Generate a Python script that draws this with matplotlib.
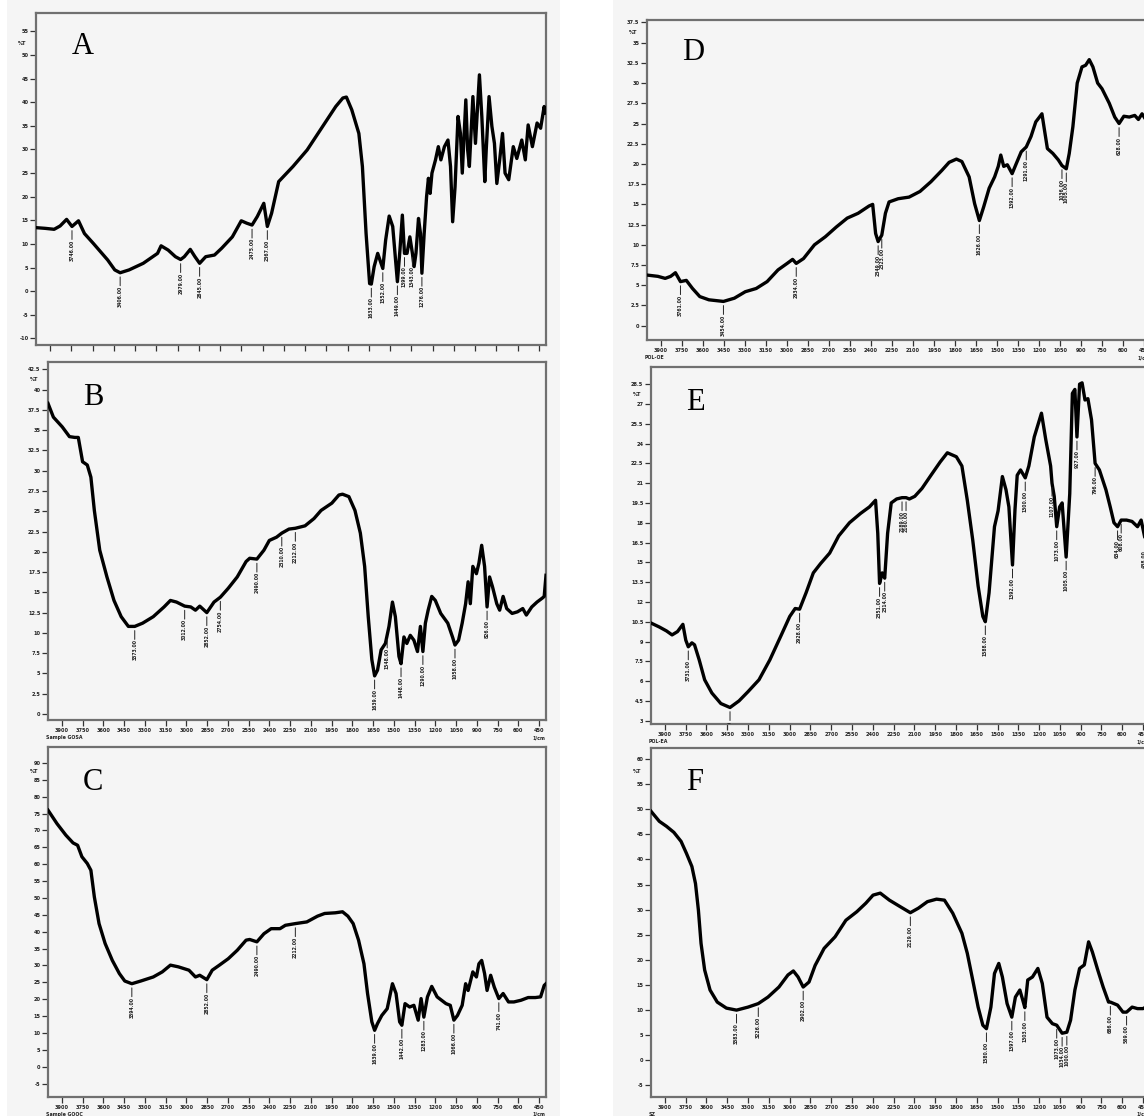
import numpy as np
import matplotlib
matplotlib.use("Agg")
import matplotlib.pyplot as plt
from matplotlib.patches import Rectangle

W, H, DPI = 1144, 1116, 100

# ---------------- spectra: wavenumber (1/cm) and transmittance (%T) ----------------
a_wn = [4000, 3935, 3872, 3830, 3784, 3746, 3700, 3658, 3595, 3494, 3444, 3406, 3343, 3243,
        3142, 3117, 3067, 3016, 2979, 2953, 2911, 2878, 2845, 2802, 2740, 2689, 2614, 2551,
        2513, 2475, 2438, 2392, 2367, 2337, 2287, 2186, 2086, 1985, 1884, 1834, 1809, 1771,
        1721, 1696, 1670, 1645, 1633, 1613, 1588, 1552, 1532, 1507, 1482, 1449, 1431, 1414,
        1399, 1381, 1361, 1343, 1331, 1318, 1300, 1286, 1276, 1260, 1243, 1230, 1218, 1205,
        1180, 1160, 1142, 1117, 1092, 1074, 1059, 1042, 1021, 1004, 991, 966, 953, 941, 916,
        898, 870, 853, 832, 822, 802, 782, 764, 747, 727, 707, 689, 663, 631, 606, 571, 546,
        526, 496, 463, 438, 413, 405]
a_t = [13.45, 13.3, 13.1, 13.8, 15.2, 13.7, 14.9, 12.2, 10.1, 6.6, 4.5, 3.9, 4.5, 5.9,
       8.0, 9.6, 8.7, 7.3, 6.7, 7.3, 8.85, 7.3, 5.9, 7.3, 7.65, 9.1, 11.5, 14.9,
       14.4, 14.0, 15.8, 18.6, 13.7, 16.5, 23.2, 26.4, 29.9, 34.5, 39.1, 40.9, 41.1, 38.4,
       33.4, 26.4, 12.2, 1.6, 1.5, 5.2, 8.0, 4.8, 10.8, 15.9, 13.7, 2.0, 8.7, 16.1,
       8.0, 8.0, 11.5, 8.0, 5.2, 8.0, 15.4, 12.2, 3.8, 12.2, 20.0, 23.9, 20.7, 25.0,
       27.8, 30.6, 27.8, 30.6, 32.0, 26.4, 14.7, 22.1, 37.0, 33.4, 25.0, 40.5, 29.9, 26.4, 41.2,
       31.3, 45.8, 37.0, 23.2, 29.9, 41.2, 34.9, 31.3, 22.8, 27.8, 33.4, 25.0, 23.6, 30.6, 28.1, 32.0, 27.8,
       35.2, 30.6, 35.6, 34.5, 39.1, 37.7]
a_marks = [3746, 3406, 2979, 2845, 2475, 2367, 1633, 1552, 1449, 1399, 1343, 1276]

b_wn = [4000, 3961, 3897, 3845, 3806, 3781, 3750, 3716, 3690, 3665, 3626, 3574, 3523, 3471,
        3419, 3373, 3316, 3239, 3161, 3115, 3071, 3012, 2968, 2934, 2903, 2852, 2800, 2754,
        2697, 2632, 2568, 2542, 2490, 2439, 2400, 2348, 2310, 2258, 2212, 2142, 2077, 2026,
        1948, 1897, 1871, 1825, 1781, 1742, 1711, 1685, 1659, 1639, 1618, 1592, 1561, 1535,
        1510, 1489, 1463, 1448, 1427, 1406, 1381, 1355, 1329, 1308, 1290, 1272, 1252, 1226,
        1200, 1161, 1110, 1076, 1058, 1032, 1006, 981, 963, 947, 929, 903, 885, 865, 844, 826,
        808, 787, 756, 735, 710, 684, 645, 606, 568, 542, 503, 465, 426, 413, 400]
b_t = [38.3, 36.6, 35.4, 34.2, 34.1, 34.1, 31.1, 30.7, 29.2, 25.1, 20.2, 16.9, 14.0, 12.0,
       10.8, 10.8, 11.2, 12.0, 13.2, 14.0, 13.8, 13.3, 13.2, 12.8, 13.3, 12.5, 13.8, 14.4,
       15.5, 16.9, 18.8, 19.2, 19.1, 20.2, 21.4, 21.8, 22.3, 22.8, 22.9, 23.2, 24.1, 25.1,
       26.0, 27.0, 27.1, 26.8, 25.1, 22.3, 18.2, 12.0, 6.7, 4.7, 5.4, 7.9, 8.7, 10.8,
       13.8, 12.0, 7.1, 6.2, 9.5, 8.7, 9.7, 9.1, 7.7, 10.8, 7.7, 11.2, 12.8, 14.5,
       14.0, 12.4, 11.2, 9.5, 8.5, 9.1, 11.2, 13.6, 16.3, 13.6, 18.2, 17.3, 18.6, 20.8, 18.2, 13.2,
       16.9, 15.7, 13.6, 12.8, 14.5, 13.0, 12.4, 12.6, 13.0, 12.2, 13.2, 13.8, 14.3, 14.5, 17.1]
b_marks = [3373, 3012, 2852, 2754, 2490, 2310, 2212, 1639, 1548, 1448, 1290, 1058, 826]

c_wn = [4000, 3935, 3871, 3819, 3786, 3755, 3716, 3690, 3665, 3631, 3587, 3535, 3484, 3445,
        3394, 3329, 3239, 3174, 3115, 3058, 2981, 2934, 2903, 2852, 2813, 2761, 2697, 2632,
        2568, 2542, 2490, 2439, 2387, 2323, 2284, 2212, 2129, 2052, 2000, 1923, 1871, 1832,
        1794, 1755, 1716, 1690, 1659, 1639, 1618, 1587, 1548, 1510, 1484, 1458, 1442, 1419,
        1386, 1355, 1324, 1303, 1283, 1257, 1226, 1187, 1123, 1092, 1066, 1040, 1006, 981,
        963, 929, 903, 885, 865, 844, 826, 800, 774, 741, 710, 671, 632, 581, 529, 477, 439,
        413, 400]
c_t = [76.0, 72.0, 68.6, 66.3, 65.6, 62.2, 60.2, 58.2, 50.3, 42.4, 36.5, 31.5, 27.6, 25.4,
       24.6, 25.4, 26.6, 28.1, 30.1, 29.6, 28.6, 26.6, 27.1, 25.8, 28.6, 30.1, 32.0, 34.5,
       37.5, 37.7, 37.0, 39.4, 40.9, 40.9, 41.9, 42.4, 42.9, 44.6, 45.4, 45.6, 45.9, 44.6,
       42.4, 37.5, 30.5, 21.7, 13.3, 10.8, 12.8, 15.2, 17.2, 24.6, 21.7, 13.3, 12.3, 18.7,
       17.7, 18.2, 13.8, 20.2, 14.7, 20.7, 23.8, 20.7, 18.7, 18.2, 13.8, 15.2, 18.2, 24.6,
       22.6, 28.1, 26.6, 30.5, 31.5, 27.6, 22.6, 27.1, 23.6, 20.2, 21.7, 19.2, 19.2, 19.7, 20.5, 20.5, 20.7,
       24.1, 24.6]
c_marks = [3394, 2852, 2490, 2212, 1639, 1442, 1283, 1066, 741]

d_wn = [4000, 3922, 3870, 3831, 3797, 3761, 3719, 3675, 3623, 3558, 3454, 3376, 3298, 3220,
        3142, 3064, 2999, 2960, 2934, 2882, 2804, 2726, 2648, 2570, 2492, 2414, 2388, 2367,
        2349, 2323, 2297, 2271, 2206, 2128, 2050, 1972, 1894, 1842, 1790, 1751, 1699, 1660,
        1626, 1595, 1556, 1517, 1491, 1473, 1452, 1426, 1392, 1361, 1327, 1291, 1257, 1223,
        1179, 1161, 1140, 1101, 1062, 1036, 1005, 984, 958, 927, 893, 867, 841, 815, 781, 750,
        698, 659, 628, 594, 555, 516, 490, 464, 438, 417, 400]
d_t = [6.26, 6.1, 5.85, 6.1, 6.55, 5.45, 5.6, 4.6, 3.6, 3.2, 3.0, 3.4, 4.2, 4.6,
       5.45, 6.9, 7.7, 8.2, 7.7, 8.3, 10.0, 11.0, 12.2, 13.3, 13.9, 14.8, 15.0, 11.4,
       10.4, 11.2, 13.9, 15.3, 15.7, 15.9, 16.6, 17.8, 19.2, 20.2, 20.6, 20.3, 18.4, 15.1,
       13.0, 14.7, 17.0, 18.4, 19.7, 21.1, 19.7, 19.9, 18.8, 20.1, 21.5, 22.1, 23.4, 25.2,
       26.2, 24.2, 21.9, 21.3, 20.5, 19.8, 19.4, 21.3, 24.6, 30.0, 32.0, 32.2, 32.9, 32.0, 30.0, 29.3,
       27.5, 25.8, 25.0, 25.9, 25.8, 26.0, 25.5, 26.2, 25.5, 25.8, 25.6]
d_marks = [3761, 3454, 2934, 2349, 2323, 1626, 1392, 1291, 1036, 1005, 628]

e_wn = [4000, 3940, 3888, 3848, 3809, 3770, 3749, 3731, 3705, 3686, 3652, 3613, 3561, 3496,
        3430, 3365, 3300, 3221, 3143, 3064, 2999, 2960, 2928, 2881, 2829, 2777, 2711, 2646,
        2568, 2489, 2424, 2380, 2364, 2351, 2332, 2314, 2293, 2267, 2228, 2189, 2160, 2136,
        2097, 2045, 1980, 1914, 1862, 1797, 1757, 1718, 1679, 1640, 1606, 1588, 1561, 1522,
        1496, 1465, 1439, 1418, 1392, 1374, 1358, 1334, 1300, 1274, 1235, 1183, 1152, 1117,
        1107, 1091, 1073, 1052, 1034, 1005, 979, 960, 942, 927, 908, 890, 869, 848, 822, 796,
        765, 718, 687, 660, 634, 608, 569, 530, 490, 464, 438, 420, 400]
e_t = [10.4, 10.1, 9.8, 9.5, 9.75, 10.3, 9.1, 8.6, 8.9, 8.75, 7.6, 6.1, 5.1, 4.3,
       4.0, 4.5, 5.2, 6.1, 7.6, 9.4, 10.9, 11.5, 11.45, 12.7, 14.2, 14.9, 15.7, 17.0,
       18.0, 18.7, 19.2, 19.7, 17.2, 13.4, 14.2, 13.8, 17.2, 19.5, 19.8, 19.9, 19.9, 19.8,
       20.0, 20.6, 21.6, 22.6, 23.3, 23.0, 22.3, 19.7, 16.7, 13.2, 10.9, 10.5, 12.7, 17.7,
       18.9, 21.5, 20.5, 19.2, 14.8, 19.0, 21.6, 22.0, 21.4, 22.3, 24.5, 26.3, 24.3, 22.3,
       21.0, 20.0, 17.7, 19.2, 19.5, 15.4, 20.2, 27.8, 28.1, 24.5, 28.5, 28.6, 27.3, 27.4, 25.8, 22.5,
       22.0, 20.5, 19.2, 18.0, 17.7, 18.2, 18.2, 18.1, 17.7, 18.2, 16.9, 17.3, 17.0]
e_marks = [3731, 3430, 2928, 2351, 2314, 2189, 2160, 1588, 1392, 1300, 1107, 1073, 1005,
           927, 796, 634, 608, 438]

f_wn = [4000, 3940, 3888, 3835, 3783, 3744, 3705, 3679, 3658, 3639, 3613, 3574, 3522, 3456,
        3383, 3300, 3226, 3156, 3077, 3012, 2973, 2939, 2902, 2860, 2816, 2751, 2672, 2594,
        2515, 2450, 2398, 2346, 2280, 2202, 2129, 2071, 2006, 1940, 1883, 1823, 1757, 1718,
        1679, 1640, 1606, 1580, 1548, 1522, 1491, 1465, 1431, 1397, 1371, 1339, 1318, 1303,
        1282, 1248, 1209, 1177, 1143, 1104, 1073, 1034, 1000, 973, 942, 908, 874, 843, 816,
        777, 738, 699, 686, 634, 595, 569, 529, 490, 451, 430, 400]
f_t = [49.6, 47.6, 46.6, 45.4, 43.6, 41.2, 38.6, 35.2, 29.9, 23.3, 18.0, 14.0, 11.6, 10.4,
       10.0, 10.6, 11.3, 12.6, 14.6, 17.0, 17.8, 16.6, 14.6, 15.6, 18.9, 22.3, 24.6, 27.9,
       29.6, 31.3, 32.9, 33.3, 31.9, 30.6, 29.4, 30.3, 31.6, 32.1, 31.9, 29.3, 25.3, 21.3,
       16.0, 10.6, 7.0, 6.3, 10.6, 17.3, 19.3, 16.6, 11.3, 8.6, 12.6, 14.0, 12.0, 10.5,
       16.0, 16.6, 18.3, 15.3, 8.6, 7.3, 7.0, 5.4, 5.6, 8.0, 14.0, 18.3, 19.0, 23.6, 21.6,
       18.0, 14.6, 11.6, 11.6, 11.0, 9.6, 9.6, 10.6, 10.3, 10.3, 10.6, 10.8]
f_marks = [3383, 3226, 2902, 2129, 1580, 1397, 1303, 1073, 1034, 1000, 686, 569]

# ---------------- y scales and sample names ----------------
a_yticks = list(range(-10, 56, 5))
b_yticks = list(np.arange(0, 42.6, 2.5))
c_yticks = list(range(-5, 91, 5))
d_yticks = list(np.arange(0, 37.6, 2.5))
e_yticks = list(np.arange(3, 28.6, 1.5))
f_yticks = list(range(-5, 61, 5))
x_ticks = list(range(3900, 449, -150))

panels = [
    # letter, wn, T, marks, yticks, ylim, box px (l, t, r, b), sample text, show x labels
    ("A", a_wn, a_t, a_marks, a_yticks, (-11.4, 58.9), (36, 13, 546, 345), None, False),
    ("B", b_wn, b_t, b_marks, b_yticks, (-0.74, 43.4), (48, 362, 546, 720), "Sample GOSA", True),
    ("C", c_wn, c_t, c_marks, c_yticks, (-8.95, 94.7), (48, 747, 546, 1097), "Sample GOOC", True),
    ("D", d_wn, d_t, d_marks, d_yticks, (-1.77, 37.8), (647, 20, 1151, 340), "POL-OE", True),
    ("E", e_wn, e_t, e_marks, e_yticks, (2.75, 29.8), (651, 367, 1150, 724), "POL-EA", True),
    ("F", f_wn, f_t, f_marks, f_yticks, (-7.3, 62.2), (651, 748, 1150, 1097), "SZ", True),
]

BG = "#f5f5f5"
fig = plt.figure(figsize=(W / DPI, H / DPI), dpi=DPI)
fig.patch.set_facecolor("white")
# light backdrop behind each column of spectra
fig.add_artist(Rectangle((7 / W, 0), 553 / W, 1, transform=fig.transFigure,
                         facecolor=BG, edgecolor="none", zorder=0))
fig.add_artist(Rectangle((613 / W, 0), (W - 613) / W, 1, transform=fig.transFigure,
                         facecolor=BG, edgecolor="none", zorder=0))


def fmt(v):
    return ("%g" % round(v, 1))


for letter, wn, tr, marks, yt, ylim, (l, t, r, b), sample, xlab in panels:
    ax = fig.add_axes([l / W, 1 - b / H, (r - l) / W, (b - t) / H])
    ax.set_facecolor(BG)
    ax.plot(wn, tr, color="black", lw=2.4, solid_joinstyle="round", zorder=3)
    ax.set_xlim(4000, 400)
    ax.set_ylim(*ylim)

    ax.set_xticks(x_ticks)
    ax.set_yticks(yt)
    ax.set_yticklabels([fmt(v) for v in yt])
    if xlab:
        ax.set_xticklabels([str(v) for v in x_ticks])
    else:
        ax.set_xticklabels([])
    ax.tick_params(axis="both", direction="out", length=4, width=0.9, color="#333333",
                   labelsize=3.6, labelcolor="#222222", pad=1.5)
    for lab in ax.get_xticklabels() + ax.get_yticklabels():
        lab.set_fontweight("bold")
    for sp in ax.spines.values():
        sp.set_color("#707070")
        sp.set_linewidth(1.6)

    # %T tag between the two topmost y ticks
    ymid = (yt[-1] + yt[-2]) / 2
    ax.annotate("%T", xy=(0, ymid), xycoords=("axes fraction", "data"),
                xytext=(-7, 0), textcoords="offset points", ha="right", va="center",
                fontsize=3.6, fontweight="bold", color="#222222")

    if sample:
        ax.annotate(sample, xy=(0, 0), xycoords="axes fraction", xytext=(-2, -15),
                    textcoords="offset pixels", ha="left", va="top", fontsize=3.4,
                    fontweight="bold", color="#222222")
        ax.annotate("1/cm", xy=(1 - 50 / 3600, 0), xycoords="axes fraction",
                    xytext=(0, -15), textcoords="offset pixels", ha="center", va="top",
                    fontsize=3.4, fontweight="bold", color="#222222")

    # peak picks: short drop line with the wavenumber printed vertically,
    # kept inside the plotting frame
    wn_arr = np.array(wn[::-1], dtype=float)
    tr_arr = np.array(tr[::-1], dtype=float)
    for m in marks:
        yv = float(np.interp(m, wn_arr, tr_arr))
        stem = ax.annotate("", xy=(m, yv), xytext=(0, -13), textcoords="offset pixels",
                           arrowprops=dict(arrowstyle="-", lw=0.7, color="#222222",
                                           shrinkA=0, shrinkB=3))
        txt = ax.annotate("%.2f" % m, xy=(m, yv), xytext=(0, -13),
                          textcoords="offset pixels", rotation=90, ha="center",
                          va="top", fontsize=3.3, fontweight="bold", color="#222222")
        for art in (stem, txt):
            art.set_clip_on(True)
            art.set_clip_path(ax.patch)
        if stem.arrow_patch is not None:
            stem.arrow_patch.set_clip_path(ax.patch)

    ax.text(0.07, 0.90, letter, transform=ax.transAxes, fontsize=22,
            family="Liberation Serif", ha="left", va="center", color="black")

fig.savefig("out.png", dpi=DPI)
